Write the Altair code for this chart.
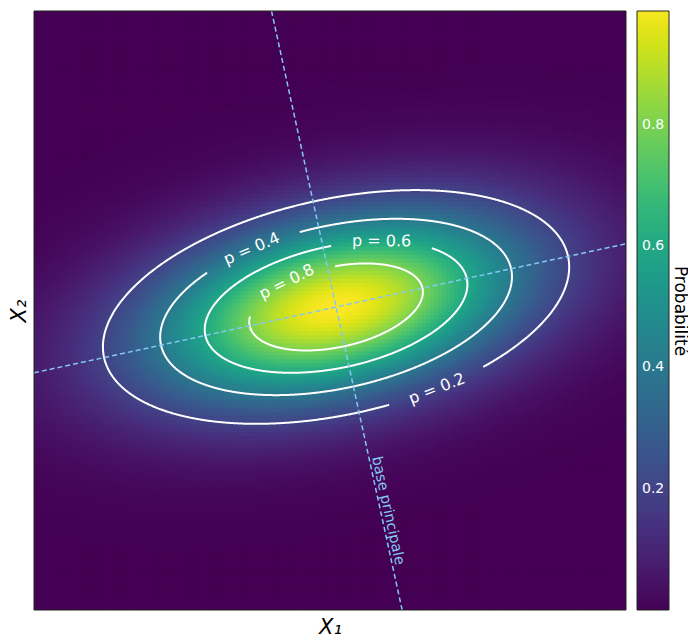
import numpy as np
import pandas as pd
import altair as alt

# ---- values ----
CENTER = [0.0, 0.0]
SIGMA_MAJOR = 1.31
SIGMA_MINOR = 0.595
THETA_DEG = 12.3
X_DOMAIN = [-2.99, 2.87]
Y_DOMAIN = [-3.0, 2.93]
LEVELS = [0.2, 0.4, 0.6, 0.8]
LEVEL_TEXT = ["p = 0.2", "p = 0.4", "p = 0.6", "p = 0.8"]
LABEL_PHI_DEG = [-70.0, 113.0, 64.0, 119.0]
LABEL_GAP = 0.5
CBAR_TICKS = [0.2, 0.4, 0.6, 0.8]
CBAR_TICK_TEXT = ["0.2", "0.4", "0.6", "0.8"]
CBAR_DOMAIN = [0.0, 0.988]
AXIS_NOTE = "base principale"
AXIS_NOTE_DIST = 2.08
X_TITLE = "X₁"
Y_TITLE = "X₂"
CBAR_TITLE = "Probabilité"

W, H = 592, 599
CB_W = 32
LINE_BLUE = "#84c8f2"
FONT = "DejaVu Sans"

th = np.radians(THETA_DEG)
ct, st = np.cos(th), np.sin(th)


def density(x, y):
    dx, dy = x - CENTER[0], y - CENTER[1]
    u = dx * ct + dy * st
    v = -dx * st + dy * ct
    return np.exp(-0.5 * ((u / SIGMA_MAJOR) ** 2 + (v / SIGMA_MINOR) ** 2))


# ---- heatmap grid (kept strictly inside the domain) ----
step = 0.04
xs = np.arange(X_DOMAIN[0], X_DOMAIN[1] - 1e-9, step)
ys = np.arange(Y_DOMAIN[0], Y_DOMAIN[1] - 1e-9, step)
gx, gy = np.meshgrid(xs, ys)
gx = gx.ravel(); gy = gy.ravel()
heat = pd.DataFrame({
    "x": np.round(gx, 4), "x2": np.round(np.minimum(gx + step * 1.25, X_DOMAIN[1]), 4),
    "y": np.round(gy, 4), "y2": np.round(np.minimum(gy + step * 1.25, Y_DOMAIN[1]), 4),
    "z": np.round(density(gx + step / 2, gy + step / 2), 4),
})

# ---- contour ellipses with label gaps ----
rows = []
labels = []
for lev, txt, phid in zip(LEVELS, LEVEL_TEXT, LABEL_PHI_DEG):
    r = np.sqrt(-2 * np.log(lev))
    phi = np.radians(np.linspace(0, 360, 1441)[:-1])
    u = r * SIGMA_MAJOR * np.cos(phi); v = r * SIGMA_MINOR * np.sin(phi)
    ex = CENTER[0] + u * ct - v * st
    ey = CENTER[1] + u * st + v * ct
    pl = np.radians(phid)
    lu = r * SIGMA_MAJOR * np.cos(pl); lv = r * SIGMA_MINOR * np.sin(pl)
    lx = CENTER[0] + lu * ct - lv * st
    ly = CENTER[1] + lu * st + lv * ct
    du = -r * SIGMA_MAJOR * np.sin(pl); dv = r * SIGMA_MINOR * np.cos(pl)
    tx = du * ct - dv * st; ty = du * st + dv * ct
    ang = -np.degrees(np.arctan2(ty, tx))
    while ang > 90: ang -= 180
    while ang <= -90: ang += 180
    labels.append({"x": lx, "y": ly, "t": txt, "a": ang % 360})
    keep = np.hypot(ex - lx, ey - ly) >= LABEL_GAP
    n = len(keep)
    start = next(i for i in range(n) if keep[i] and not keep[i - 1])
    order = [(start + k) % n for k in range(n)]
    k = 0
    for idx in order:
        if keep[idx]:
            rows.append({"x": ex[idx], "y": ey[idx], "lev": txt, "o": k})
            k += 1
contours = pd.DataFrame(rows)
clabels = pd.DataFrame(labels)


# ---- principal axes, cut at the frame ----
def clip_len(dx, dy):
    ts = []
    for d, lo, hi, c in ((dx, X_DOMAIN[0], X_DOMAIN[1], CENTER[0]),
                         (dy, Y_DOMAIN[0], Y_DOMAIN[1], CENTER[1])):
        if abs(d) > 1e-12:
            ts.append(sorted([(lo - c) / d, (hi - c) / d]))
    return max(t[0] for t in ts), min(t[1] for t in ts)


ax_rows = []
for name, (dx, dy) in {"maj": (ct, st), "min": (-st, ct)}.items():
    t0, t1 = clip_len(dx, dy)
    for i, t in enumerate([t0, t1]):
        ax_rows.append({"x": CENTER[0] + t * dx, "y": CENTER[1] + t * dy, "ax": name, "o": i})
axes_df = pd.DataFrame(ax_rows)
note_df = pd.DataFrame([{
    "x": CENTER[0] + AXIS_NOTE_DIST * st,
    "y": CENTER[1] - AXIS_NOTE_DIST * ct,
    "t": AXIS_NOTE,
}])
note_angle = 90 - THETA_DEG

xax = alt.Axis(title=X_TITLE, labels=False, ticks=False, domain=False, grid=False,
               titleFontSize=21, titleFontStyle="italic", titleFontWeight="normal",
               titlePadding=6, titleFont=FONT, titleColor="black")
yax = alt.Axis(title=Y_TITLE, labels=False, ticks=False, domain=False, grid=False,
               titleFontSize=21, titleFontStyle="italic", titleFontWeight="normal",
               titlePadding=5, titleFont=FONT, titleColor="black")
xsc = alt.Scale(domain=X_DOMAIN, nice=False, zero=False)
ysc = alt.Scale(domain=Y_DOMAIN, nice=False, zero=False)
cscale = alt.Scale(scheme="viridis", domain=[0, 1])

heat_layer = alt.Chart(heat).mark_rect(strokeWidth=0).encode(
    x=alt.X("x:Q", scale=xsc, axis=xax), x2="x2:Q",
    y=alt.Y("y:Q", scale=ysc, axis=yax), y2="y2:Q",
    color=alt.Color("z:Q", scale=cscale, legend=None),
)
contour_layer = alt.Chart(contours).mark_line(color="white", strokeWidth=2).encode(
    x=alt.X("x:Q", scale=xsc, axis=xax), y=alt.Y("y:Q", scale=ysc, axis=yax),
    detail="lev:N", order="o:Q",
)
label_layer = alt.Chart(clabels).mark_text(color="white", fontSize=16, font=FONT,
                                           align="center", baseline="middle").encode(
    x=alt.X("x:Q", scale=xsc, axis=xax), y=alt.Y("y:Q", scale=ysc, axis=yax),
    text="t:N", angle=alt.Angle("a:Q", scale=None),
)
axes_layer = alt.Chart(axes_df).mark_line(color=LINE_BLUE, strokeWidth=1.5,
                                          strokeDash=[5, 3]).encode(
    x=alt.X("x:Q", scale=xsc, axis=xax), y=alt.Y("y:Q", scale=ysc, axis=yax),
    detail="ax:N", order="o:Q",
)
note_layer = alt.Chart(note_df).mark_text(color=LINE_BLUE, fontSize=14.5, font=FONT,
                                          align="center", baseline="middle",
                                          angle=note_angle, dy=-7).encode(
    x=alt.X("x:Q", scale=xsc, axis=xax), y=alt.Y("y:Q", scale=ysc, axis=yax),
    text="t:N",
)
border = alt.Chart(alt.Data(values=[{}])).mark_rect(filled=False, stroke="#222",
                                                    strokeWidth=1).encode(
    x=alt.value(0), x2=alt.value(W), y=alt.value(0), y2=alt.value(H),
)
main = alt.layer(heat_layer, contour_layer, axes_layer, label_layer, note_layer, border
                 ).properties(width=W, height=H)

# ---- colorbar ----
cv = np.linspace(CBAR_DOMAIN[0], CBAR_DOMAIN[1], 301)
cb_df = pd.DataFrame({"lo": cv[:-1], "hi": np.minimum(cv[1:] + 0.002, CBAR_DOMAIN[1]),
                      "m": (cv[:-1] + cv[1:]) / 2})
cysc = alt.Scale(domain=CBAR_DOMAIN, nice=False, zero=False)
cyax = alt.Axis(title=CBAR_TITLE, orient="right", labels=False, ticks=False, domain=False,
                grid=False, titleFontSize=17, titleFont=FONT, titleFontWeight="normal",
                titlePadding=1, titleColor="black")
cb_rect = alt.Chart(cb_df).mark_rect(strokeWidth=0).encode(
    x=alt.value(0), x2=alt.value(CB_W),
    y=alt.Y("lo:Q", scale=cysc, axis=cyax), y2="hi:Q",
    color=alt.Color("m:Q", scale=cscale, legend=None),
)
cb_text = alt.Chart(pd.DataFrame({"v": CBAR_TICKS, "t": CBAR_TICK_TEXT})).mark_text(
    color="white", fontSize=14, font=FONT, align="left", baseline="middle").encode(
    x=alt.value(5), y=alt.Y("v:Q", scale=cysc, axis=cyax), text="t:N",
)
cb_border = alt.Chart(alt.Data(values=[{}])).mark_rect(filled=False, stroke="#222",
                                                       strokeWidth=1).encode(
    x=alt.value(0), x2=alt.value(CB_W), y=alt.value(0), y2=alt.value(H),
)
cbar = alt.layer(cb_rect, cb_text, cb_border).properties(width=CB_W, height=H)

chart = alt.hconcat(main, cbar, spacing=7).properties(
    padding={"left": 0, "top": 0, "right": 0, "bottom": 0}
).configure(font=FONT).configure_view(stroke=None)

chart.save("out.html", embed_options={"renderer": "svg", "actions": False})
